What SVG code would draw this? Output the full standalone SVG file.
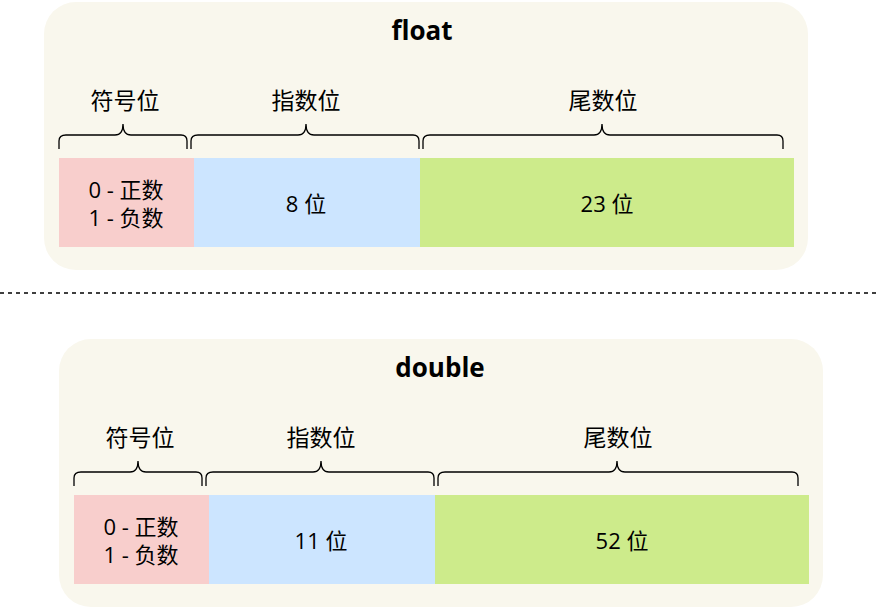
<svg xmlns="http://www.w3.org/2000/svg" width="885" height="609" viewBox="0 0 885 609">
<style>
.panel{fill:#f9f7ed;stroke:none}
.sign{fill:#f8cecc}
.exp{fill:#cce5ff}
.man{fill:#cdeb8b}
.brace{fill:none;stroke:#000;stroke-width:1.3}
.t{font-family:"Open Sans","Noto Sans CJK SC",sans-serif;font-size:22px;fill:#000;text-anchor:middle}
.lbl{font-family:"Noto Sans CJK SC",sans-serif;font-size:23px;fill:#000;text-anchor:middle}
.title{font-family:"Open Sans","Noto Sans",sans-serif;font-size:26px;font-weight:bold;fill:#000;text-anchor:middle}
</style>
<g id="float">
<rect class="panel" x="44" y="2" width="764" height="268" rx="32"/>
<text class="title" x="422" y="40">float</text>
</g>
<g id="float-sign">
<rect class="sign" x="59" y="158" width="135" height="89"/>
<text class="t" x="126" y="198">0 - 正数</text>
<text class="t" x="126" y="226">1 - 负数</text>
</g>
<g id="float-exp">
<rect class="exp" x="194" y="158" width="226" height="89"/>
<text class="t" x="306" y="212">8 位</text>
</g>
<g id="float-man">
<rect class="man" x="420" y="158" width="374" height="89"/>
<text class="t" x="607" y="212">23 位</text>
</g>
<g id="float-labels">
<text class="lbl" x="125" y="109">符号位</text>
<text class="lbl" x="306" y="109">指数位</text>
<text class="lbl" x="603" y="109">尾数位</text>
</g>
<g id="double">
<rect class="panel" x="59" y="339" width="764" height="268" rx="32"/>
<text class="title" x="440" y="377">double</text>
</g>
<g id="double-sign">
<rect class="sign" x="74" y="495" width="135" height="89"/>
<text class="t" x="141" y="535">0 - 正数</text>
<text class="t" x="141" y="563">1 - 负数</text>
</g>
<g id="double-exp">
<rect class="exp" x="209" y="495" width="226" height="89"/>
<text class="t" x="321" y="549">11 位</text>
</g>
<g id="double-man">
<rect class="man" x="435" y="495" width="374" height="89"/>
<text class="t" x="622" y="549">52 位</text>
</g>
<g id="double-labels">
<text class="lbl" x="140" y="446">符号位</text>
<text class="lbl" x="321" y="446">指数位</text>
<text class="lbl" x="618" y="446">尾数位</text>
</g>
<g id="connectors">
<path class="brace" d="M59,149 V141 Q59,135 66,135 H115 Q123,135 123,124 Q123,135 131,135 H181 Q187,135 187,141 V149"/>
<path class="brace" d="M191,149 V141 Q191,135 198,135 H298 Q306,135 306,124 Q306,135 314,135 H413 Q419,135 419,141 V149"/>
<path class="brace" d="M423,149 V141 Q423,135 430,135 H594 Q602,135 602,124 Q602,135 610,135 H777 Q783,135 783,141 V149"/>
<line x1="0" y1="293" x2="880" y2="293" stroke="#000" stroke-width="1.3" stroke-dasharray="4 4"/>
<path class="brace" d="M74,486 V478 Q74,472 81,472 H130 Q138,472 138,461 Q138,472 146,472 H196 Q202,472 202,478 V486"/>
<path class="brace" d="M206,486 V478 Q206,472 213,472 H313 Q321,472 321,461 Q321,472 329,472 H428 Q434,472 434,478 V486"/>
<path class="brace" d="M438,486 V478 Q438,472 445,472 H609 Q617,472 617,461 Q617,472 625,472 H792 Q798,472 798,478 V486"/>
</g>
</svg>
